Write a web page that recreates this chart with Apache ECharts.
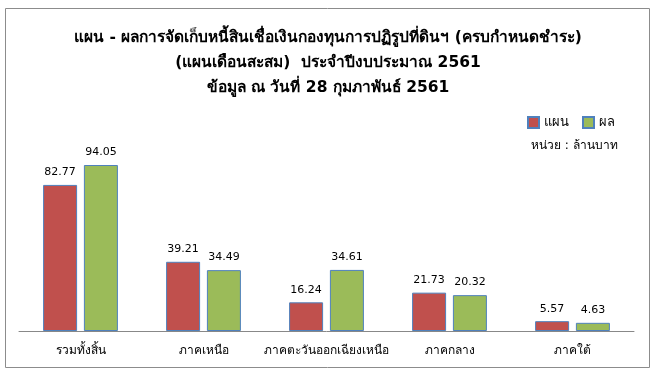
<!DOCTYPE html>
<html><head><meta charset="utf-8">
<script src="https://cdn.jsdelivr.net/npm/echarts@6/dist/echarts.min.js"></script>
<style>html,body{margin:0;padding:0;background:#fff}#c{width:656px;height:375px}</style>
</head><body><div id="c"></div>
<script>
const categories = ['รวมทั้งสิ้น','ภาคเหนือ','ภาคตะวันออกเฉียงเหนือ','ภาคกลาง','ภาคใต้'];
const planValues = [82.77, 39.21, 16.24, 21.73, 5.57];
const actualValues = [94.05, 34.49, 34.61, 20.32, 4.63];
const seriesNames = ['แผน','ผล'];
const titleLines = ['แผน - ผลการจัดเก็บหนี้สินเชื่อเงินกองทุนการปฏิรูปที่ดินฯ (ครบกำหนดชำระ)','(แผนเดือนสะสม)  ประจำปีงบประมาณ 2561','ข้อมูล ณ วันที่ 28 กุมภาพันธ์ 2561'];
const unitText = 'หน่วย : ล้านบาท';

const font = 'Tahoma, "DejaVu Sans", "Noto Sans", sans-serif';
const chart = echarts.init(document.getElementById('c'));
const lbl = {show:true, position:'top', distance:7, color:'#000', fontSize:11, fontFamily:font, formatter: p => p.value.toFixed(2)};
chart.setOption({
  animation:false,
  title:{text:titleLines.join('\n'), left:'center', top:20, textStyle:{fontSize:15.5, fontWeight:'bold', color:'#000', fontFamily:font, lineHeight:25}},
  legend:{data:seriesNames, right:36, top:111, itemWidth:11, itemHeight:11, itemGap:13, textStyle:{fontSize:13, fontFamily:font, color:'#000'}, icon:'rect'},
  graphic:[
    {type:'rect', shape:{x:5.5,y:8.5,width:644,height:359}, style:{fill:null, stroke:'#8c8c8c', lineWidth:1}, silent:true},
    {type:'text', left:531, top:140, style:{text:unitText, fontSize:12, fontFamily:font, fill:'#000'}}
  ],
  grid:{left:19, right:22, top:154.5, bottom:44},
  xAxis:{type:'category', data:categories, axisTick:{show:false}, axisLine:{lineStyle:{color:'#888'}}, axisLabel:{color:'#000', fontSize:12, fontFamily:font, margin:14, interval:0}},
  yAxis:{type:'value', min:0, max:100, show:false, splitLine:{show:false}},
  series:[
    {name:seriesNames[0], type:'bar', data:planValues, barWidth:34, barGap:'20%', itemStyle:{color:'#C0504D', borderColor:'#4F81BD', borderWidth:1}, label:lbl},
    {name:seriesNames[1], type:'bar', data:actualValues, barWidth:34, itemStyle:{color:'#9BBB59', borderColor:'#4F81BD', borderWidth:1}, label:lbl}
  ]
});
</script></body></html>
